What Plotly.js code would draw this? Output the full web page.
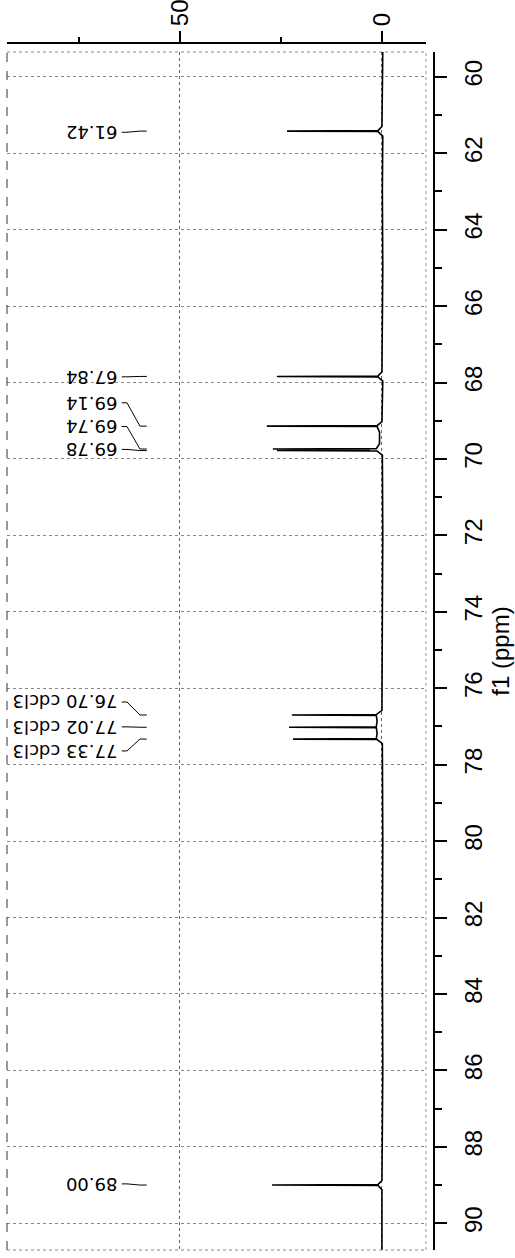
<!DOCTYPE html>
<html><head><meta charset="utf-8">
<script src="https://cdn.plot.ly/plotly-3.0.1.min.js"></script>
<style>html,body{margin:0;padding:0;background:#fff}</style>
</head><body><div id="chart" style="width:515px;height:1258px"></div>
<script>
// Spectrum trace (ppm, intensity)
const spectrumPpm = [59.35, 60.5, 61.30, 61.408, 61.42, 61.432, 61.55, 63.0, 65.0,
  67.72, 67.828, 67.84, 67.852, 67.96,
  69.02, 69.128, 69.14, 69.152, 69.30, 69.60, 69.728, 69.74, 69.755, 69.765, 69.78, 69.792, 69.90,
  72.0, 74.0, 76.58, 76.688, 76.70, 76.712, 76.86, 77.008, 77.02, 77.032, 77.18, 77.318, 77.33, 77.342, 77.45,
  80.0, 83.0, 86.0, 88.88, 88.988, 89.00, 89.012, 89.12, 90.7];
const spectrumIntensity = [-0.2, -0.1, 0.0, 1.0, 23.5, 1.0, -0.2, -0.1, -0.2,
  0.0, 1.0, 26.0, 1.0, -0.2,
  0.0, 1.2, 28.5, 1.2, 0.6, 0.6, 1.4, 27.0, 3.0, 3.0, 26.0, 1.2, -0.1,
  -0.2, -0.1, 0.0, 1.4, 22.3, 1.4, 1.2, 1.4, 23.0, 1.4, 1.2, 1.4, 22.0, 1.2, -0.1,
  -0.2, -0.1, -0.2, 0.0, 1.0, 27.2, 1.0, 0.0, 0.0];

const peakLabelText = ['61.42', '67.84', '69.14', '69.74', '69.78', '76.70 cdcl3', '77.02 cdcl3', '77.33 cdcl3', '89.00'];
const peakLabelPpm = [61.45, 67.85, 68.53, 69.15, 69.75, 76.36, 77.01, 77.64, 88.97];
const peakPpm = [61.42, 67.84, 69.14, 69.74, 69.78, 76.70, 77.02, 77.33, 89.00];

const axisTitle = 'f1 (ppm)';

// connector geometry (intensity units)
const cText = 64.9, cA = 64.4, cB = 63.1, cC = 59.9, cD = 58.2;

const annotations = peakLabelText.map((t, i) => ({
  x: cText, y: peakLabelPpm[i], xref: 'x', yref: 'y', text: t, showarrow: false,
  xanchor: 'right', yanchor: 'middle', textangle: 180,
  font: {family: 'DejaVu Sans', size: 18, color: '#000'}
}));

const shapes = peakLabelText.map((t, i) => ({
  type: 'path', xref: 'x', yref: 'y', layer: 'above',
  path: `M ${cA},${peakLabelPpm[i]} L ${cB},${peakLabelPpm[i]} L ${cC},${peakPpm[i]} L ${cD},${peakPpm[i]}`,
  line: {color: '#000', width: 1}
}));

const xDom = 419 / 427, yDom = 1198 / 1207;
shapes.push({type: 'line', xref: 'paper', yref: 'paper', x0: 0, x1: 0, y0: 0, y1: yDom, line: {color: '#333', width: 1, dash: 'dash'}});
shapes.push({type: 'line', xref: 'paper', yref: 'paper', x0: xDom, x1: xDom, y0: 0, y1: yDom, line: {color: '#999', width: 1, dash: 'dot'}});
shapes.push({type: 'line', xref: 'paper', yref: 'paper', x0: 0, x1: xDom, y0: yDom, y1: yDom, line: {color: '#888', width: 1, dash: 'dot'}});
shapes.push({type: 'line', xref: 'paper', yref: 'paper', x0: 0, x1: xDom, y0: 0, y1: 0, line: {color: '#888', width: 1, dash: 'dot'}});

const tickFont = {family: 'Liberation Sans', size: 24, color: '#000'};

const data = [{
  type: 'scatter', mode: 'lines', x: spectrumIntensity, y: spectrumPpm,
  line: {color: '#000', width: 1.6}, hoverinfo: 'skip'
}];

const layout = {
  width: 515, height: 1258,
  margin: {l: 7, r: 81, t: 43, b: 8},
  paper_bgcolor: '#fff', plot_bgcolor: '#fff', showlegend: false,
  xaxis: {
    range: [92.8, -10.9], domain: [0, xDom], anchor: 'free', position: 1, side: 'top',
    showline: true, linecolor: '#000', linewidth: 2,
    ticks: 'outside', ticklen: 11, tickwidth: 2, tickcolor: '#000',
    tick0: 0, dtick: 50, tickangle: -90, tickfont: tickFont,
    showgrid: true, gridcolor: '#666', griddash: 'dot', gridwidth: 1, zeroline: false,
    minor: {dtick: 25, ticklen: 5, tickwidth: 2, tickcolor: '#000', ticks: 'outside', showgrid: false}
  },
  yaxis: {
    range: [90.7, 59.35], domain: [0, yDom], anchor: 'free', position: 1, side: 'right',
    showline: true, linecolor: '#000', linewidth: 2,
    ticks: 'outside', ticklen: 12, tickwidth: 2, tickcolor: '#000',
    tick0: 0, dtick: 2, tickangle: -90, tickfont: tickFont, ticklabelstandoff: 6,
    showgrid: true, gridcolor: '#888', griddash: 'dot', gridwidth: 1, zeroline: false,
    minor: {dtick: 1, ticklen: 7, tickwidth: 2, tickcolor: '#000', ticks: 'outside', showgrid: false},
    title: {text: axisTitle, font: {family: 'Liberation Sans', size: 24, color: '#000'}, standoff: 4}
  },
  annotations: annotations,
  shapes: shapes
};

Plotly.newPlot('chart', data, layout, {displayModeBar: false, staticPlot: true});
</script></body></html>
